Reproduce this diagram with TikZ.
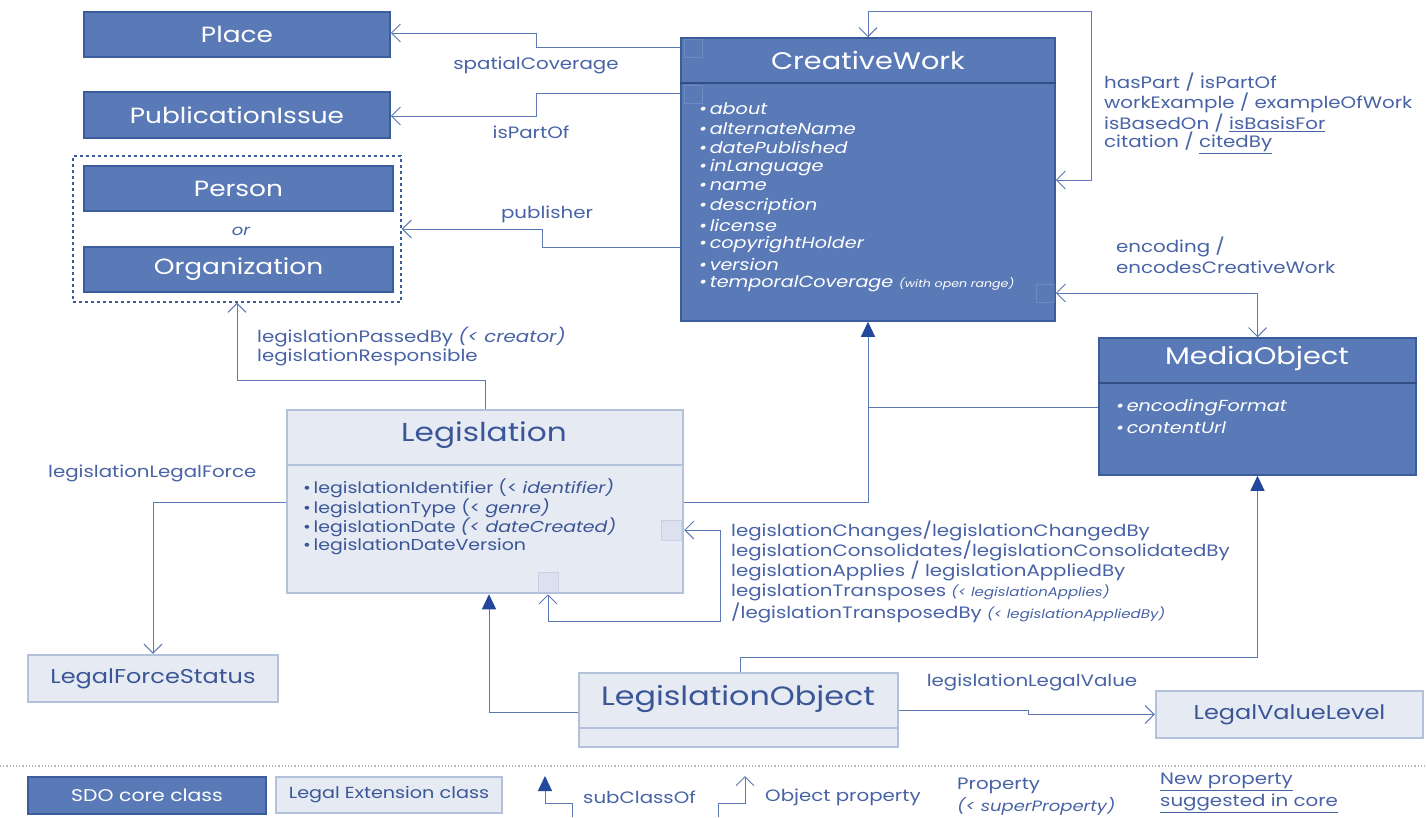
\documentclass[tikz,border=0pt]{standalone}
\usepackage{fontspec}
\setmainfont{Poppins}[FakeStretch=1.2]
\usetikzlibrary{arrows.meta,calc}
\definecolor{corefill}{HTML}{5A7AB7}
\definecolor{coreline}{HTML}{3B5C9D}
\definecolor{extfill}{HTML}{E6EAF3}
\definecolor{extline}{HTML}{B3C1DA}
\definecolor{exttext}{HTML}{3A5697}
\definecolor{lbl}{HTML}{4862A6}
\definecolor{wirec}{HTML}{5C79B5}
\definecolor{inhc}{HTML}{23479A}
\begin{document}
\begin{tikzpicture}[x=1pt,y=-1pt,
  core/.style={draw=coreline, fill=corefill, line width=1.5pt, text=white, inner sep=0pt, font=\fontsize{22}{26}\selectfont},
  ext/.style={draw=extline, fill=extfill, line width=2.5pt, text=exttext, inner sep=0pt, font=\fontsize{20}{24}\selectfont},
  bigtitle/.style={inner sep=0pt, font=\fontsize{24}{28}\selectfont},
  lab/.style={text=lbl, inner sep=0pt, font=\fontsize{16.5}{19}\selectfont},
  labl/.style={lab, anchor=west},
  cwitem/.style={anchor=west, text=white, inner sep=0pt, font=\itshape\fontsize{16}{19}\selectfont},
  legitem/.style={anchor=west, text=exttext, inner sep=0pt, font=\fontsize{15.8}{19}\selectfont},
  wire/.style={draw=wirec, line width=1pt},
  OB/.tip={Straight Barb[length=9pt,width=18pt]},
  IH/.tip={Triangle[length=15pt,width=14pt,color=inhc,fill=inhc]},
  ghost/.style={draw=white, draw opacity=0.12, line width=0.6pt, minimum size=18pt, inner sep=0pt},
  ghoste/.style={draw=extline, fill=extline, fill opacity=0.2, draw opacity=0.5, line width=0.6pt, minimum size=20pt, inner sep=0pt}
]
\useasboundingbox (0,0) rectangle (1427,817);
\fill[white] (0,0) rectangle (1427,817);

% ---------- SDO core classes on the left
\node[core, minimum width=306pt, minimum height=45pt] (place) at (237,34.5) {Place};
\node[core, minimum width=306pt, minimum height=46pt] (pubissue) at (237,115) {PublicationIssue};
\node[draw=coreline, dashed, line width=1.3pt, minimum width=328pt, minimum height=146pt, inner sep=0pt] (agent) at (237,229) {};
\node[core, minimum width=309pt, minimum height=45pt] (person) at (238.5,188.5) {Person};
\node[lab, font=\itshape\fontsize{15}{17}\selectfont] (ortext) at (241,231) {or};
\node[core, minimum width=309pt, minimum height=45pt] (org) at (238.5,269.5) {Organization};

% ---------- CreativeWork
\node[core, minimum width=374pt, minimum height=283pt] (cw) at (868,179.5) {};
\draw[draw=coreline!85!black, line width=2pt] (cw.west |- 0,83) -- (cw.east |- 0,83);
\node[bigtitle, text=white] (cwt) at (868,60) {CreativeWork};
\foreach \t [count=\i] in {about,alternateName,datePublished,inLanguage,name,description,license,copyrightHolder,version}
  \node[cwitem] (cwa\i) at (699,{109+19.4*(\i-1)}) {\textbullet\,\t};
\node[cwitem] (cwa10) at (699,284) {\textbullet\,temporalCoverage\ {\fontsize{10.5}{12}\selectfont(with open range)}};
\node[ghost] (g1) at (693,48) {};
\node[ghost] (g2) at (693,94) {};
\node[ghost] (g3) at (1045,293) {};

% ---------- MediaObject
\node[core, minimum width=317pt, minimum height=137pt] (mo) at (1257.5,406.5) {};
\draw[draw=coreline!85!black, line width=2pt] (mo.west |- 0,383) -- (mo.east |- 0,383);
\node[bigtitle, text=white] (mot) at (1257,358) {MediaObject};
\node[cwitem] (moa1) at (1116,408) {\textbullet\,encodingFormat};
\node[cwitem] (moa2) at (1116,428) {\textbullet\,contentUrl};

% ---------- Legislation
\node[ext, minimum width=396pt, minimum height=183pt] (leg) at (485,501.5) {};
\draw[extline, line width=2.5pt] (leg.west |- 0,465) -- (leg.east |- 0,465);
\node[bigtitle, text=exttext, font=\fontsize{26}{30}\selectfont] (legt) at (484,435) {Legislation};
\node[legitem] (la1) at (303,488) {\textbullet\,legislationIdentifier (< \textit{identifier)}};
\node[legitem] (la2) at (303,508) {\textbullet\,legislationType (< \textit{genre)}};
\node[legitem] (la3) at (303,527) {\textbullet\,legislationDate \textit{(< dateCreated)}};
\node[legitem] (la4) at (303,547) {\textbullet\,legislationDateVersion};
\node[ghoste] (g4) at (671,530) {};
\node[ghoste] (g5) at (548,582) {};

% ---------- other extension classes
\node[ext, minimum width=250pt, minimum height=47pt] (lfs) at (153,678.5) {LegalForceStatus};
\node[ext, minimum width=319pt, minimum height=74pt] (lo) at (738.5,710) {};
\draw[extline, line width=2.5pt] (lo.west |- 0,728) -- (lo.east |- 0,728);
\node[bigtitle, text=exttext, font=\fontsize{26.5}{30}\selectfont] (lot) at (738,699) {LegislationObject};
\node[ext, minimum width=267pt, minimum height=47pt] (lvl) at (1289.5,714.5) {LegalValueLevel};

% ---------- connectors
\draw[wire,-OB] (cw.west |- 0,47) -| (536,33) -- (place.east |- 0,33);
\node[lab] (l_sc) at (536,65) {spatialCoverage};
\draw[wire,-OB] (cw.west |- 0,93) -| (536,116) -- (pubissue.east |- 0,116);
\node[lab] (l_ipo) at (531,132) {isPartOf};
\draw[wire,-OB] (cw.west |- 0,247) -| (542,229) -- (agent.east |- 0,229);
\node[lab] (l_pub) at (547,214) {publisher};

\draw[wire,OB-OB] (cw.east |- 0,180) -| (1091,11) -| (cw.north);
\node[labl] (l_hp1) at (1104,82) {hasPart / isPartOf};
\node[labl] (l_hp2) at (1104,103) {workExample / exampleOfWork};
\node[labl] (l_hp3) at (1104,123) {isBasedOn / \underline{isBasisFor}};
\node[labl] (l_hp4) at (1104,143) {citation / \underline{citedBy}};

\draw[wire,OB-OB] (cw.east |- 0,293) -| (mo.north);
\node[labl] (l_enc1) at (1116,247) {encoding /};
\node[labl] (l_enc2) at (1116,267) {encodesCreativeWork};

\draw[wire,-OB] (leg.north) -- (leg.north |- 0,380) -| (agent.south);
\node[labl] (l_lpb1) at (257,337) {legislationPassedBy \textit{(< creator)}};
\node[labl] (l_lpb2) at (257,357) {legislationResponsible};

\draw[wire,-OB] (leg.west |- 0,502) -| (lfs.north);
\node[labl] (l_llf) at (48,473) {legislationLegalForce};

\draw[wire,-IH] (leg.east |- 0,502) -| (cw.south);
\draw[wire] (mo.west |- 0,407) -- (cw.south |- 0,407);

\draw[wire,OB-OB] ([xshift=63pt]leg.south) |- (720,621) |- (leg.east |- 0,530);
\node[labl] (l_lc1) at (731,531) {legislationChanges/legislationChangedBy};
\node[labl] (l_lc2) at (731,551) {legislationConsolidates/legislationConsolidatedBy};
\node[labl] (l_lc3) at (731,571) {legislationApplies / legislationAppliedBy};
\node[labl] (l_lc4) at (731,592) {legislationTransposes {\itshape\fontsize{12.5}{14}\selectfont (< legislationApplies)}};
\node[labl] (l_lc5) at (731,613) {/legislationTransposedBy {\itshape\fontsize{12.5}{14}\selectfont (< legislationAppliedBy)}};

\draw[wire,-IH] ([xshift=1.5pt]lo.north) |- (mo.south |- 0,657) -- (mo.south);
\draw[wire,-IH] (lo.west |- 0,712) -| ([xshift=4pt]leg.south);

\draw[wire,-OB] (lo.east |- 0,710) -| (1028,714.5) -- (lvl.west);
\node[lab] (l_llv) at (1032,682) {legislationLegalValue};

% ---------- legend
\draw[gray!55, dotted, line width=1.2pt] (0,766) -- (1427,766);
\node[core, minimum width=238pt, minimum height=37pt, font=\fontsize{17}{20}\selectfont] (lgcore) at (147,795.5) {SDO core class};
\node[ext, line width=2pt, minimum width=226pt, minimum height=36pt, font=\fontsize{16}{19}\selectfont] (lgext) at (389,795) {Legal Extension class};
\coordinate (sA) at (572,817);
\coordinate (sB) at (545,776);
\draw[wire,-IH] (sA) |- (545,803) -- (sB);
\node[labl] (lgsub) at (583,797) {subClassOf};
\coordinate (oA) at (718,817);
\coordinate (oB) at (745,776);
\draw[wire,-OB] (oA) |- (745,803) -- (oB);
\node[labl] (lgobj) at (765,797) {Object property};
\node[labl] (lgp1) at (957,786) {Property};
\node[labl, font=\itshape\fontsize{15}{17}\selectfont] (lgp2) at (957,806) {(< superProperty)};
\node[labl] (lgn1) at (1160,782) {\underline{New property}};
\node[labl] (lgn2) at (1160,803) {\underline{suggested in core}};
\end{tikzpicture}
\end{document}
